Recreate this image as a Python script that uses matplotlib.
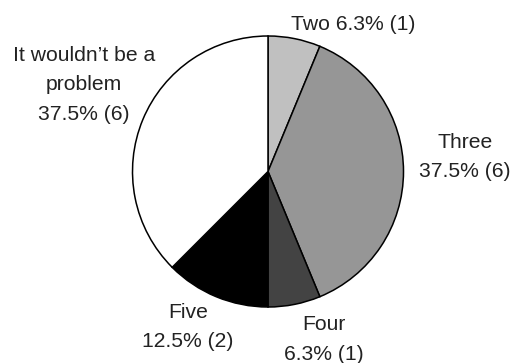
import matplotlib
matplotlib.use("Agg")
import matplotlib.pyplot as plt
from decimal import Decimal, ROUND_HALF_UP

# Survey responses
categories = ["Two", "Three", "Four", "Five", "It wouldn\u2019t be a\nproblem"]
counts = [1, 6, 1, 2, 6]
colors = ["#c0c0c0", "#969696", "#434343", "#000000", "#ffffff"]

W, H = 514, 363
fig = plt.figure(figsize=(W / 100, H / 100), dpi=100)
ax = fig.add_axes([0, 0, 1, 1])

cx, cy, r = 268, H - 171.5, 135.5
ax.pie(counts, colors=colors, startangle=90, counterclock=False,
       center=(cx, cy), radius=r, frame=True,
       wedgeprops=dict(edgecolor="black", linewidth=1.1))
ax.set_xlim(0, W)
ax.set_ylim(0, H)
ax.set_aspect("equal")
ax.axis("off")

total = sum(counts)
# label anchor positions (x, last-line baseline from top) and layout
label_pos = [(353, 30), (465, 177), (324, 360), (188, 347), (84, 120)]
label_sep = [" ", "\n", "\n", "\n", "\n"]
for name, n, (lx, ly), sep in zip(categories, counts, label_pos, label_sep):
    pct = Decimal(100 * n) / Decimal(total)
    pct = pct.quantize(Decimal("0.1"), rounding=ROUND_HALF_UP)
    txt = f"{name}{sep}{pct}% ({n})"
    ax.text(lx, H - ly, txt, ha="center", va="baseline", multialignment="center",
            fontsize=15.2, family=["Liberation Sans", "DejaVu Sans"],
            color="#222222", linespacing=1.7)

fig.savefig("out.png", dpi=100)
